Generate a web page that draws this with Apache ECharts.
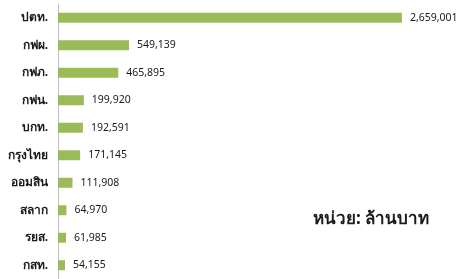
<!DOCTYPE html>
<html>
<head>
<meta charset="utf-8">
<script src="https://cdn.jsdelivr.net/npm/echarts@6/dist/echarts.min.js"></script>
<style>
    html, body { margin: 0; padding: 0; background: #fff; }
    #main { width: 458px; height: 279px; }
</style>
</head>
<body>
<div id="main"></div>
<script>
var categories = ['ปตท.', 'กฟผ.', 'กฟภ.', 'กฟน.', 'บกท.', 'กรุงไทย', 'ออมสิน', 'สลาก', 'รยส.', 'กสท.'];
var values = [2659001, 549139, 465895, 199920, 192591, 171145, 111908, 64970, 61985, 54155];
var unitText = 'หน่วย: ล้านบาท';

var myChart = echarts.init(document.getElementById('main'));
var option = {
    animation: false,
    grid: { left: 58, top: 4, width: 388, height: 277 },
    xAxis: {
        type: 'value',
        min: 0,
        max: 3000000,
        show: false
    },
    yAxis: {
        type: 'category',
        inverse: true,
        data: categories,
        axisLine: { lineStyle: { color: '#bfbfbf', width: 1 } },
        axisTick: { show: false },
        axisLabel: {
            margin: 10,
            color: '#1a1a1a',
            fontSize: 12,
            fontWeight: 'bold',
            fontFamily: 'Tahoma, "Noto Sans", sans-serif'
        }
    },
    series: [{
        type: 'bar',
        data: values,
        barWidth: 10,
        itemStyle: { color: '#9bbb59' },
        label: {
            show: true,
            position: 'right',
            distance: 8,
            color: '#1a1a1a',
            fontSize: 10.5,
            fontFamily: 'Tahoma, "Noto Sans", sans-serif',
            formatter: function (params) {
                return params.value.toLocaleString('en-US');
            }
        }
    }],
    graphic: [{
        type: 'text',
        left: 313,
        top: 211,
        style: {
            text: unitText,
            fill: '#1a1a1a',
            fontSize: 17,
            fontWeight: 'bold',
            fontFamily: 'Tahoma, "Noto Sans", sans-serif'
        }
    }]
};
myChart.setOption(option);
</script>
</body>
</html>
